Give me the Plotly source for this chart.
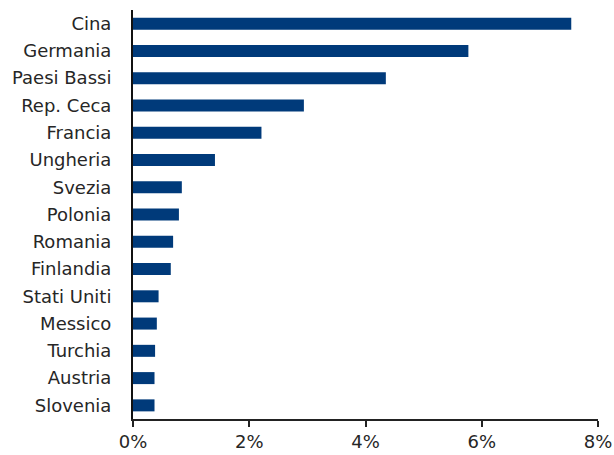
import plotly.graph_objects as go

# Countries (top to bottom) and their shares, in percent
countries = ["Cina", "Germania", "Paesi Bassi", "Rep. Ceca", "Francia", "Ungheria",
             "Svezia", "Polonia", "Romania", "Finlandia", "Stati Uniti", "Messico",
             "Turchia", "Austria", "Slovenia"]
shares = [7.54, 5.77, 4.35, 2.94, 2.21, 1.41, 0.84, 0.79, 0.69, 0.65,
          0.44, 0.41, 0.38, 0.37, 0.37]
tick_vals = [0, 2, 4, 6, 8]
tick_text = ["0%", "2%", "4%", "6%", "8%"]

font_family = "'DejaVu Sans', sans-serif"

fig = go.Figure(go.Bar(
    x=shares,
    y=countries,
    orientation="h",
    width=0.44,
    marker=dict(color="#003A7A", line=dict(width=0)),
))

fig.update_layout(
    width=614,
    height=455,
    margin=dict(l=133, r=16, t=10, b=36),
    paper_bgcolor="white",
    plot_bgcolor="white",
    showlegend=False,
    font=dict(family=font_family, size=18, color="#262626"),
)

fig.update_xaxes(
    range=[0, 8],
    tickvals=tick_vals,
    ticktext=tick_text,
    automargin=False,
    showgrid=False,
    zeroline=False,
    showline=True,
    linecolor="#222222",
    linewidth=1.5,
    ticks="outside",
    ticklen=6,
    tickwidth=1.5,
    tickcolor="#222222",
    tickfont=dict(size=18),
)

fig.update_yaxes(
    categoryorder="array",
    categoryarray=countries[::-1],
    range=[-0.5, len(countries) - 0.5],
    automargin=False,
    showgrid=False,
    zeroline=False,
    showline=True,
    linecolor="#111111",
    linewidth=2,
    ticks="",
    ticklabelstandoff=16,
    tickfont=dict(size=18),
)

fig.write_html("out.html")
